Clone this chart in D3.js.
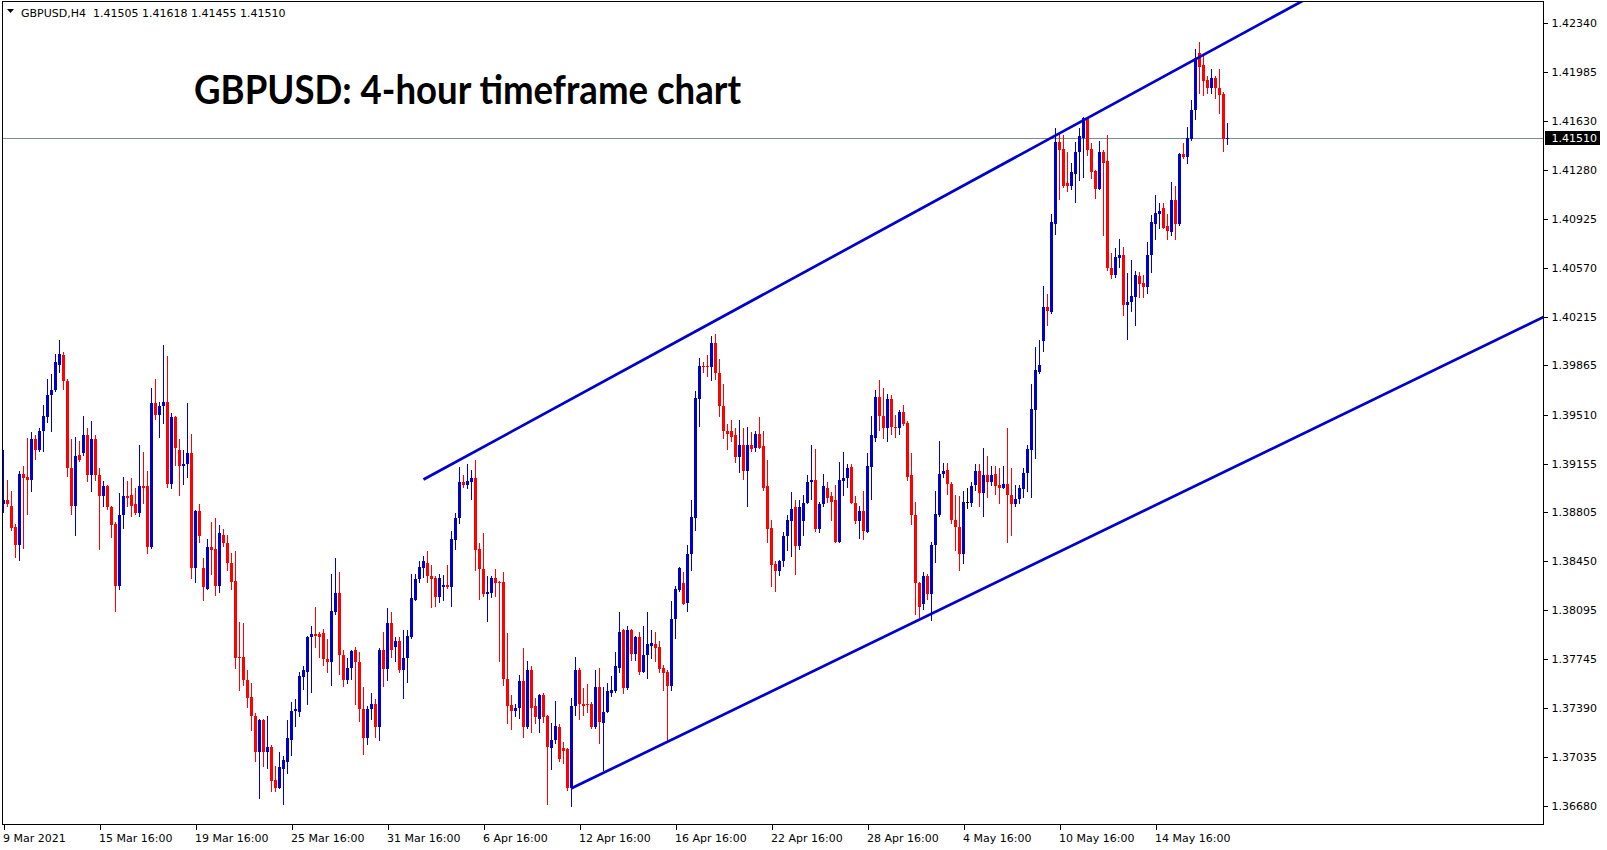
<!DOCTYPE html>
<html><head><meta charset="utf-8">
<script src="https://cdn.jsdelivr.net/npm/d3@7"></script>
<style>html,body{margin:0;padding:0;background:#fff;overflow:hidden}</style>
</head><body><svg id="c" width="1607" height="850"></svg>
<script>
const symbolLabel = "GBPUSD,H4";
const titleText = "GBPUSD: 4-hour timeframe chart";

const open = [
1.3886,1.3889,1.3885,1.3870,1.3857,1.3908,1.3906,1.3904,1.3933,1.3925,
1.3939,1.3949,1.3965,1.3969,1.3987,1.3994,1.3975,1.3912,1.3885,1.3922,
1.3923,1.3936,1.3907,1.3933,1.3907,1.3892,1.3899,1.3884,1.3872,1.3827,
1.3878,1.3892,1.3893,1.3886,1.3880,1.3899,1.3899,1.3855,1.3959,1.3951,
1.3957,1.3960,1.3901,1.3949,1.3925,1.3914,1.3915,1.3923,1.3840,1.3881,
1.3840,1.3825,1.3855,1.3854,1.3827,1.3864,1.3858,1.3844,1.3831,1.3776,
1.3776,1.3759,1.3747,1.3733,1.3707,1.3730,1.3707,1.3711,1.3687,1.3681,
1.3695,1.3700,1.3716,1.3737,1.3736,1.3761,1.3765,1.3790,1.3792,1.3792,
1.3793,1.3774,1.3772,1.3808,1.3822,1.3777,1.3759,1.3768,1.3781,1.3772,
1.3738,1.3717,1.3738,1.3742,1.3725,1.3781,1.3767,1.3800,1.3783,1.3787,
1.3766,1.3775,1.3790,1.3817,1.3832,1.3840,1.3844,1.3834,1.3833,1.3819,
1.3826,1.3828,1.3826,1.3860,1.3876,1.3902,1.3900,1.3902,1.3905,1.3854,
1.3839,1.3821,1.3822,1.3833,1.3830,1.3830,1.3760,1.3741,1.3737,1.3739,
1.3758,1.3725,1.3766,1.3740,1.3731,1.3748,1.3733,1.3710,1.3716,1.3725,
1.3710,1.3709,1.3681,1.3740,1.3766,1.3742,1.3742,1.3742,1.3725,1.3754,
1.3728,1.3736,1.3750,1.3751,1.3768,1.3795,1.3753,1.3795,1.3778,1.3790,
1.3765,1.3777,1.3784,1.3785,1.3783,1.3768,1.3765,1.3755,1.3803,1.3824,
1.3829,1.3815,1.3850,1.3876,1.3962,1.3986,1.3986,1.3985,1.4003,1.3981,
1.3957,1.3939,1.3939,1.3936,1.3920,1.3929,1.3910,1.3929,1.3927,1.3937,
1.3928,1.3899,1.3869,1.3843,1.3838,1.3845,1.3863,1.3874,1.3884,1.3856,
1.3874,1.3887,1.3902,1.3904,1.3868,1.3886,1.3898,1.3892,1.3889,1.3859,
1.3903,1.3905,1.3913,1.3887,1.3874,1.3881,1.3866,1.3913,1.3934,1.3964,
1.3950,1.3941,1.3962,1.3942,1.3941,1.3953,1.3945,1.3907,1.3878,1.3829,
1.3814,1.3834,1.3821,1.3857,1.3878,1.3908,1.3911,1.3901,1.3875,1.3870,
1.3850,1.3888,1.3887,1.3900,1.3910,1.3894,1.3907,1.3902,1.3908,1.3900,
1.3898,1.3901,1.3893,1.3886,1.3890,1.3897,1.3909,1.3925,1.3954,1.3982,
1.4004,1.4029,1.4025,1.4089,1.4148,1.4143,1.4118,1.4116,1.4125,1.4141,
1.4151,1.4165,1.4143,1.4127,1.4114,1.4141,1.4134,1.4057,1.4052,1.4064,
1.4066,1.4030,1.4032,1.4036,1.4051,1.4046,1.4043,1.4066,1.4089,1.4096,
1.4100,1.4087,1.4083,1.4106,1.4089,1.4139,1.4137,1.4150,1.4171,1.4212,
1.4204,1.4193,1.4187,1.4194,1.4187,1.4183,1.41505];

const high = [
1.3925,1.3904,1.3896,1.3872,1.3910,1.3914,1.3934,1.3938,1.3936,1.3941,
1.3958,1.3977,1.3980,1.3995,1.4005,1.3996,1.3977,1.3933,1.3935,1.3932,
1.3950,1.3941,1.3946,1.3936,1.3912,1.3903,1.3900,1.3885,1.3873,1.3894,
1.3906,1.3903,1.3905,1.3898,1.3929,1.3924,1.3910,1.3970,1.3977,1.3960,
1.4001,1.3993,1.3952,1.3950,1.3933,1.3925,1.3959,1.3937,1.3882,1.3886,
1.3847,1.3861,1.3873,1.3876,1.3871,1.3868,1.3864,1.3851,1.3852,1.3801,
1.3800,1.3766,1.3757,1.3735,1.3731,1.3731,1.3733,1.3712,1.3697,1.3707,
1.3704,1.3730,1.3743,1.3745,1.3765,1.3769,1.3791,1.3798,1.3812,1.3794,
1.3796,1.3789,1.3836,1.3847,1.3837,1.3781,1.3775,1.3781,1.3783,1.3779,
1.3754,1.3740,1.3750,1.3745,1.3782,1.3794,1.3811,1.3808,1.3790,1.3790,
1.3795,1.3795,1.3836,1.3836,1.3845,1.3849,1.3852,1.3842,1.3834,1.3836,
1.3835,1.3842,1.3867,1.3880,1.3913,1.3907,1.3915,1.3911,1.3918,1.3858,
1.3865,1.3834,1.3834,1.3839,1.3831,1.3837,1.3793,1.3748,1.3742,1.3763,
1.3782,1.3773,1.3769,1.3746,1.3749,1.3750,1.3734,1.3728,1.3744,1.3727,
1.3714,1.3710,1.3746,1.3776,1.3768,1.3753,1.3756,1.3743,1.3766,1.3768,
1.3754,1.3757,1.3762,1.3779,1.3808,1.3796,1.3798,1.3796,1.3791,1.3794,
1.3798,1.3808,1.3795,1.3794,1.3787,1.3770,1.3766,1.3816,1.3827,1.3841,
1.3837,1.3857,1.3889,1.3968,1.3992,1.3989,1.3994,1.4008,1.4009,1.3991,
1.3973,1.3944,1.3947,1.3941,1.3947,1.3941,1.3942,1.3938,1.3939,1.3949,
1.3939,1.3918,1.3875,1.3845,1.3846,1.3866,1.3878,1.3895,1.3889,1.3889,
1.3893,1.3907,1.3929,1.3926,1.3888,1.3908,1.3902,1.3895,1.3900,1.3917,
1.3924,1.3915,1.3915,1.3892,1.3885,1.3896,1.3923,1.3950,1.3969,1.3976,
1.3970,1.3966,1.3965,1.3951,1.3954,1.3958,1.3946,1.3923,1.3888,1.3830,
1.3837,1.3836,1.3859,1.3896,1.3932,1.3916,1.3916,1.3902,1.3893,1.3892,
1.3896,1.3898,1.3902,1.3915,1.3915,1.3927,1.3921,1.3914,1.3914,1.3912,
1.3914,1.3941,1.3912,1.3900,1.3900,1.3912,1.3929,1.3973,1.4000,1.4005,
1.4044,1.4038,1.4096,1.4158,1.4154,1.4153,1.4141,1.4133,1.4148,1.4158,
1.4166,1.4166,1.4147,1.4128,1.4149,1.4142,1.4153,1.4068,1.4071,1.4078,
1.4072,1.4053,1.4063,1.4055,1.4054,1.4052,1.4076,1.4095,1.4110,1.4104,
1.4104,1.4096,1.4119,1.4116,1.4140,1.4147,1.4159,1.4178,1.4215,1.4220,
1.4210,1.4196,1.4201,1.4196,1.4201,1.4184,1.41618];

const low = [
1.3880,1.3884,1.3867,1.3847,1.3845,1.3854,1.3878,1.3895,1.3918,1.3924,
1.3924,1.3945,1.3938,1.3967,1.3981,1.3969,1.3906,1.3878,1.3863,1.3917,
1.3921,1.3902,1.3895,1.3903,1.3853,1.3884,1.3882,1.3862,1.3808,1.3824,
1.3868,1.3884,1.3877,1.3878,1.3877,1.3886,1.3850,1.3854,1.3947,1.3934,
1.3944,1.3898,1.3897,1.3914,1.3892,1.3900,1.3905,1.3832,1.3829,1.3858,
1.3816,1.3824,1.3835,1.3820,1.3822,1.3855,1.3838,1.3824,1.3767,1.3751,
1.3755,1.3739,1.3722,1.3700,1.3673,1.3696,1.3695,1.3678,1.3678,1.3680,
1.3669,1.3691,1.3704,1.3725,1.3732,1.3752,1.3741,1.3750,1.3782,1.3775,
1.3769,1.3764,1.3755,1.3806,1.3763,1.3754,1.3756,1.3759,1.3741,1.3729,
1.3705,1.3712,1.3730,1.3717,1.3715,1.3754,1.3758,1.3775,1.3772,1.3764,
1.3745,1.3757,1.3789,1.3816,1.3829,1.3833,1.3829,1.3811,1.3812,1.3815,
1.3816,1.3825,1.3812,1.3853,1.3872,1.3898,1.3897,1.3889,1.3838,1.3817,
1.3819,1.3801,1.3818,1.3819,1.3772,1.3755,1.3727,1.3723,1.3732,1.3731,
1.3717,1.3724,1.3721,1.3727,1.3721,1.3728,1.3669,1.3694,1.3713,1.3700,
1.3698,1.3679,1.3667,1.3733,1.3730,1.3733,1.3735,1.3724,1.3724,1.3713,
1.3693,1.3735,1.3747,1.3750,1.3764,1.3749,1.3752,1.3773,1.3773,1.3763,
1.3764,1.3760,1.3774,1.3772,1.3764,1.3751,1.3714,1.3751,1.3789,1.3823,
1.3813,1.3808,1.3838,1.3867,1.3942,1.3981,1.3978,1.3975,1.3976,1.3949,
1.3933,1.3925,1.3931,1.3916,1.3909,1.3904,1.3884,1.3924,1.3924,1.3926,
1.3896,1.3858,1.3826,1.3823,1.3834,1.3841,1.3852,1.3848,1.3835,1.3853,
1.3863,1.3886,1.3889,1.3866,1.3865,1.3884,1.3887,1.3874,1.3858,1.3858,
1.3892,1.3898,1.3886,1.3872,1.3861,1.3860,1.3865,1.3889,1.3931,1.3939,
1.3933,1.3931,1.3936,1.3934,1.3936,1.3943,1.3903,1.3871,1.3806,1.3804,
1.3810,1.3817,1.3802,1.3844,1.3877,1.3905,1.3893,1.3872,1.3852,1.3838,
1.3843,1.3883,1.3884,1.3896,1.3884,1.3877,1.3891,1.3899,1.3893,1.3886,
1.3897,1.3858,1.3863,1.3884,1.3886,1.3891,1.3895,1.3891,1.3919,1.3980,
1.3996,1.4015,1.4024,1.4081,1.4106,1.4115,1.4112,1.4113,1.4104,1.4120,
1.4122,1.4138,1.4121,1.4107,1.4113,1.4080,1.4055,1.4049,1.4050,1.4057,
1.4022,1.4005,1.4025,1.4015,1.4035,1.4035,1.4038,1.4053,1.4077,1.4085,
1.4085,1.4077,1.4080,1.4077,1.4087,1.4136,1.4132,1.4149,1.4164,1.4183,
1.4181,1.4183,1.4183,1.4179,1.4168,1.4141,1.41455];

const close = [
1.3889,1.3886,1.3869,1.3857,1.3908,1.3905,1.3904,1.3933,1.3925,1.3939,
1.3950,1.3965,1.3969,1.3989,1.3995,1.3975,1.3912,1.3885,1.3921,1.3918,
1.3936,1.3907,1.3933,1.3907,1.3892,1.3899,1.3884,1.3871,1.3827,1.3878,
1.3892,1.3891,1.3885,1.3880,1.3899,1.3898,1.3855,1.3959,1.3951,1.3957,
1.3960,1.3901,1.3949,1.3927,1.3914,1.3915,1.3923,1.3840,1.3881,1.3863,
1.3826,1.3855,1.3853,1.3827,1.3865,1.3858,1.3844,1.3830,1.3775,1.3775,
1.3759,1.3746,1.3733,1.3707,1.3730,1.3707,1.3711,1.3686,1.3681,1.3696,
1.3701,1.3717,1.3737,1.3738,1.3762,1.3766,1.3790,1.3792,1.3791,1.3790,
1.3774,1.3772,1.3809,1.3822,1.3777,1.3759,1.3768,1.3780,1.3772,1.3738,
1.3717,1.3738,1.3742,1.3725,1.3781,1.3767,1.3800,1.3781,1.3787,1.3766,
1.3775,1.3791,1.3818,1.3832,1.3841,1.3845,1.3834,1.3832,1.3819,1.3833,
1.3828,1.3826,1.3861,1.3876,1.3902,1.3900,1.3903,1.3905,1.3853,1.3839,
1.3821,1.3823,1.3833,1.3829,1.3829,1.3760,1.3740,1.3737,1.3739,1.3758,
1.3725,1.3766,1.3739,1.3732,1.3748,1.3732,1.3711,1.3716,1.3726,1.3702,
1.3708,1.3681,1.3740,1.3766,1.3742,1.3740,1.3741,1.3725,1.3754,1.3729,
1.3736,1.3751,1.3752,1.3769,1.3794,1.3753,1.3795,1.3778,1.3790,1.3765,
1.3777,1.3785,1.3786,1.3782,1.3767,1.3764,1.3755,1.3803,1.3825,1.3840,
1.3814,1.3850,1.3877,1.3963,1.3986,1.3985,1.3985,1.4003,1.3981,1.3957,
1.3939,1.3937,1.3935,1.3920,1.3929,1.3910,1.3929,1.3926,1.3937,1.3927,
1.3898,1.3868,1.3842,1.3838,1.3845,1.3863,1.3875,1.3883,1.3856,1.3884,
1.3887,1.3902,1.3904,1.3868,1.3886,1.3899,1.3891,1.3888,1.3859,1.3904,
1.3905,1.3912,1.3887,1.3874,1.3881,1.3867,1.3914,1.3936,1.3964,1.3950,
1.3941,1.3962,1.3942,1.3941,1.3953,1.3944,1.3906,1.3878,1.3829,1.3812,
1.3834,1.3821,1.3857,1.3879,1.3908,1.3910,1.3901,1.3875,1.3870,1.3850,
1.3888,1.3888,1.3899,1.3910,1.3894,1.3907,1.3902,1.3907,1.3899,1.3898,
1.3901,1.3893,1.3886,1.3890,1.3898,1.3909,1.3926,1.3955,1.3983,1.3987,
1.4029,1.4026,1.4090,1.4148,1.4142,1.4116,1.4116,1.4126,1.4141,1.4152,
1.4165,1.4142,1.4126,1.4114,1.4141,1.4133,1.4057,1.4052,1.4065,1.4066,
1.4030,1.4032,1.4037,1.4052,1.4045,1.4043,1.4066,1.4090,1.4097,1.4098,
1.4086,1.4084,1.4106,1.4089,1.4139,1.4137,1.4151,1.4171,1.4209,1.4202,
1.4192,1.4187,1.4194,1.4187,1.4182,1.4150,1.41510];

const xTickBars = [0,24,48,72,96,120,144,168,192,216,240,264,288];
const xTickLabels = ["9 Mar 2021","15 Mar 16:00","19 Mar 16:00","25 Mar 16:00","31 Mar 16:00",
  "6 Apr 16:00","12 Apr 16:00","16 Apr 16:00","22 Apr 16:00","28 Apr 16:00",
  "4 May 16:00","10 May 16:00","14 May 16:00"];
const yTickValues = [1.42340,1.41985,1.41630,1.41280,1.40925,1.40570,1.40215,1.39865,
  1.39510,1.39155,1.38805,1.38450,1.38095,1.37745,1.37390,1.37035,1.36680];
const upperTrend = [[105,1.39040],[299,1.42094]];
const lowerTrend = [[142,1.36808],[300,1.39023]];

// ---------- drawing ----------
const svg = d3.select("#c");
const W = 1607, H = 850;
const plotL = 2.5, plotR = 1543.5, plotT = 1.5, plotB = 824.5;
const BLUE = "#0000cd", RED = "#ff0000";

const x = d3.scaleLinear().domain([0, open.length - 1]).range([3.5, 3.5 + 4 * (open.length - 1)]);
const y = d3.scaleLinear().domain([1.36680, 1.42340]).range([806, 23]);

svg.append("rect").attr("width", W).attr("height", H).attr("fill", "#fff");

svg.append("defs").append("clipPath").attr("id", "plotClip")
  .append("rect").attr("x", plotL).attr("y", plotT).attr("width", plotR - plotL).attr("height", plotB - plotT);

const plot = svg.append("g").attr("clip-path", "url(#plotClip)");

// current price line
const last = open.length - 1;
plot.append("line")
  .attr("x1", plotL).attr("x2", plotR)
  .attr("y1", Math.round(y(close[last])) + 0.5).attr("y2", Math.round(y(close[last])) + 0.5)
  .attr("stroke", "#7b8a99").attr("stroke-width", 1);

// candles
const idx = d3.range(open.length);
const cg = plot.append("g").attr("shape-rendering", "crispEdges");
idx.forEach(i => {
  const o = open[i], c = close[i], h = high[i], l = low[i];
  const col = c > o ? BLUE : (c < o ? RED : "#000");
  const cx = Math.floor(x(i));
  const bt = Math.round(y(Math.max(o, c)));
  const bb = Math.round(y(Math.min(o, c)));
  const wt = Math.min(Math.round(y(h)), bt);
  const wb = Math.max(Math.round(y(l)), bb);
  cg.append("rect").attr("x", cx).attr("y", wt).attr("width", 1).attr("height", Math.max(1, wb - wt)).attr("fill", col);
  cg.append("rect").attr("x", cx - 1).attr("y", bt).attr("width", 3).attr("height", Math.max(1, bb - bt)).attr("fill", col);
});

// trend lines (rays to the right)
function ray(p) {
  const [i1, v1] = p[0], [i2, v2] = p[1];
  const iEnd = 420;
  const vEnd = v1 + (v2 - v1) * (iEnd - i1) / (i2 - i1);
  return [[x(i1), y(v1)], [x(iEnd), y(vEnd)]];
}
[upperTrend, lowerTrend].forEach(t => {
  const pts = ray(t);
  plot.append("line")
    .attr("x1", pts[0][0]).attr("y1", pts[0][1]).attr("x2", pts[1][0]).attr("y2", pts[1][1])
    .attr("stroke", BLUE).attr("stroke-width", 2.7);
});

// frame
svg.append("rect").attr("x", plotL).attr("y", plotT).attr("width", plotR - plotL).attr("height", plotB - plotT)
  .attr("fill", "none").attr("stroke", "#000").attr("stroke-width", 1).attr("shape-rendering", "crispEdges");

const font = "'DejaVu Sans', Tahoma, sans-serif";

// y axis
const yAxis = d3.axisRight(y).tickValues(yTickValues).tickSize(4).tickSizeOuter(0).tickPadding(4)
  .tickFormat(d3.format(".5f"));
const gy = svg.append("g").attr("transform", `translate(${plotR},0)`).call(yAxis);
gy.select(".domain").remove();
gy.selectAll(".tick line").attr("stroke", "#000").attr("shape-rendering", "crispEdges");
gy.selectAll(".tick text").attr("font-family", font).attr("font-size", 11).attr("fill", "#000");

// x axis
const xAxis = d3.axisBottom(x).tickValues(xTickBars).tickSize(5).tickSizeOuter(0).tickPadding(5)
  .tickFormat((d, i) => xTickLabels[i]);
const gx = svg.append("g").attr("transform", `translate(0,${plotB})`).call(xAxis);
gx.select(".domain").remove();
gx.selectAll(".tick line").attr("stroke", "#000").attr("shape-rendering", "crispEdges");
gx.selectAll(".tick text").attr("font-family", font).attr("font-size", 11).attr("fill", "#000")
  .attr("text-anchor", "start").attr("x", -1);

// current price box
const py = y(close[last]);
svg.append("rect").attr("x", plotR + 1.5).attr("y", Math.round(py) - 7).attr("width", 55).attr("height", 14).attr("fill", "#000");
svg.append("text").attr("x", plotR + 8).attr("y", py).attr("dy", "0.35em")
  .attr("font-family", font).attr("font-size", 11).attr("fill", "#fff").text(d3.format(".5f")(close[last]));

// header
svg.append("path").attr("d", "M7,9 L14,9 L10.5,13 Z").attr("fill", "#000");
const f5 = d3.format(".5f");
svg.append("text").attr("x", 21).attr("y", 17)
  .attr("font-family", font).attr("font-size", 11).attr("fill", "#000")
  .attr("xml:space", "preserve").style("white-space", "pre")
  .text(`${symbolLabel}  ${f5(open[last])} ${f5(high[last])} ${f5(low[last])} ${f5(close[last])}`);

// title
svg.append("text").attr("x", 194).attr("y", 103.5)
  .attr("font-family", "Lato, 'Open Sans', sans-serif").attr("font-weight", 700)
  .attr("font-size", 40).attr("fill", "#000")
  .attr("textLength", 547).attr("lengthAdjust", "spacingAndGlyphs")
  .text(titleText);
</script>
</body></html>
